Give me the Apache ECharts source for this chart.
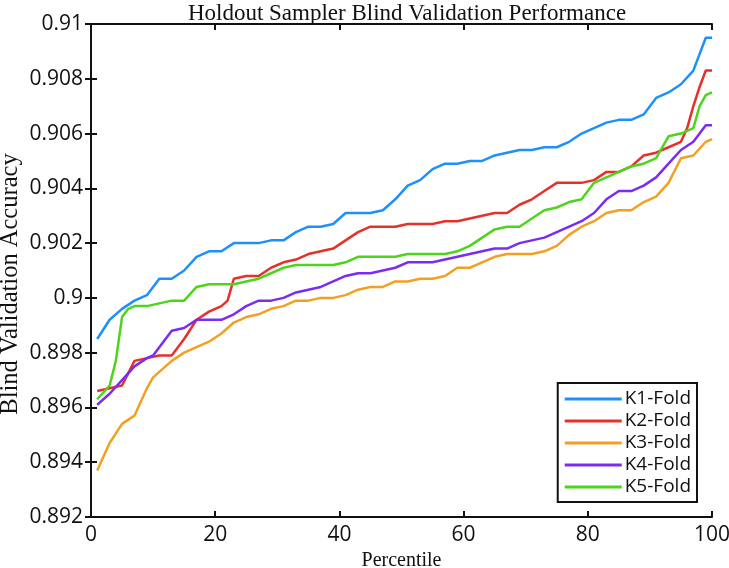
<!DOCTYPE html>
<html>
<head>
<meta charset="utf-8">
<script src="https://cdn.jsdelivr.net/npm/echarts@6/dist/echarts.min.js"></script>
<style>html,body{margin:0;padding:0;background:#fff}#c{width:729px;height:568px}</style>
</head>
<body>
<div id="c"></div>
<script>
const seriesNames = ['K1-Fold','K2-Fold','K3-Fold','K4-Fold','K5-Fold'];
const xTicks = [0,20,40,60,80,100];
const yTicks = [0.892,0.894,0.896,0.898,0.9,0.902,0.904,0.906,0.908,0.91];

const k1 = [[1,.8985],[3,.8992],[5,.8996],[7,.8999],[9,.9001],[11,.9007],[13,.9007],[15,.9010],[17,.9015],[19,.9017],[21,.9017],[23,.9020],[25,.9020],[27,.9020],[29,.9021],[31,.9021],[33,.9024],[35,.9026],[37,.9026],[39,.9027],[41,.9031],[43,.9031],[45,.9031],[47,.9032],[49,.9036],[51,.9041],[53,.9043],[55,.9047],[57,.9049],[59,.9049],[61,.9050],[63,.9050],[65,.9052],[67,.9053],[69,.9054],[71,.9054],[73,.9055],[75,.9055],[77,.9057],[79,.9060],[81,.9062],[83,.9064],[85,.9065],[87,.9065],[89,.9067],[91,.9073],[93,.9075],[95,.9078],[97,.9083],[98,.9089],[99,.9095],[100,.9095]];
const k2 = [[1,.8966],[3,.8967],[5,.8968],[7,.8977],[9,.8978],[11,.8979],[13,.8979],[15,.8985],[17,.8992],[19,.8995],[21,.8997],[22,.8999],[23,.9007],[25,.9008],[27,.9008],[29,.9011],[31,.9013],[33,.9014],[35,.9016],[37,.9017],[39,.9018],[41,.9021],[43,.9024],[45,.9026],[47,.9026],[49,.9026],[51,.9027],[53,.9027],[55,.9027],[57,.9028],[59,.9028],[61,.9029],[63,.9030],[65,.9031],[67,.9031],[69,.9034],[71,.9036],[73,.9039],[75,.9042],[77,.9042],[79,.9042],[81,.9043],[83,.9046],[85,.9046],[87,.9048],[89,.9052],[91,.9053],[93,.9055],[95,.9057],[96,.9062],[97,.9070],[98,.9077],[99,.9083],[100,.9083]];
const k3 = [[1,.8937],[3,.8947],[5,.8954],[7,.8957],[9,.8967],[10,.8971],[11,.8973],[13,.8977],[15,.8980],[17,.8982],[19,.8984],[21,.8987],[23,.8991],[25,.8993],[27,.8994],[29,.8996],[31,.8997],[33,.8999],[35,.8999],[37,.9000],[39,.9000],[41,.9001],[43,.9003],[45,.9004],[47,.9004],[49,.9006],[51,.9006],[53,.9007],[55,.9007],[57,.9008],[59,.9011],[61,.9011],[63,.9013],[65,.9015],[67,.9016],[69,.9016],[71,.9016],[73,.9017],[75,.9019],[77,.9023],[79,.9026],[81,.9028],[83,.9031],[85,.9032],[87,.9032],[89,.9035],[91,.9037],[93,.9042],[95,.9051],[97,.9052],[99,.9057],[100,.9058]];
const k4 = [[1,.8961],[3,.8965],[5,.8970],[7,.8975],[9,.8978],[10,.8979],[11,.8982],[13,.8988],[15,.8989],[17,.8992],[19,.8992],[21,.8992],[23,.8994],[25,.8997],[27,.8999],[29,.8999],[31,.9000],[33,.9002],[35,.9003],[37,.9004],[39,.9006],[41,.9008],[43,.9009],[45,.9009],[47,.9010],[49,.9011],[51,.9013],[53,.9013],[55,.9013],[57,.9014],[59,.9015],[61,.9016],[63,.9017],[65,.9018],[67,.9018],[69,.9020],[71,.9021],[73,.9022],[75,.9024],[77,.9026],[79,.9028],[81,.9031],[83,.9036],[85,.9039],[87,.9039],[89,.9041],[91,.9044],[93,.9049],[95,.9054],[97,.9057],[99,.9063],[100,.9063]];
const k5 = [[1,.8963],[3,.8968],[4,.8977],[5,.8993],[6,.8996],[7,.8997],[9,.8997],[11,.8998],[13,.8999],[15,.8999],[17,.9004],[19,.9005],[21,.9005],[23,.9005],[25,.9006],[27,.9007],[29,.9009],[31,.9011],[33,.9012],[35,.9012],[37,.9012],[39,.9012],[41,.9013],[43,.9015],[45,.9015],[47,.9015],[49,.9015],[51,.9016],[53,.9016],[55,.9016],[57,.9016],[59,.9017],[61,.9019],[63,.9022],[65,.9025],[67,.9026],[69,.9026],[71,.9029],[73,.9032],[75,.9033],[77,.9035],[79,.9036],[81,.9042],[83,.9044],[85,.9046],[87,.9048],[89,.9049],[91,.9051],[93,.9059],[95,.9060],[97,.9062],[98,.9070],[99,.9074],[100,.9075]];

const colors = ['#1E8FFF','#E5312A','#F2A024','#7A2CF5','#4ED41C'];
const allData = [k1,k2,k3,k4,k5];

const chart = echarts.init(document.getElementById('c'), null, {renderer:'canvas'});
const fmtY = v => String(parseFloat(v.toFixed(3)));
const sans = 'Open Sans';
const serif = 'Liberation Serif';
chart.setOption({
  animation:false,
  backgroundColor:'#fff',
  title:{text:'Holdout Sampler Blind Validation Performance', left:402, textAlign:'center', top:-3,
    textStyle:{fontFamily:serif, fontWeight:'normal', fontSize:23, color:'#111'}},
  grid:{left:91, right:17, top:24, bottom:51, containLabel:false, outerBoundsMode:'none'},
  legend:{
    data:seriesNames, orient:'vertical', right:32, bottom:66,
    backgroundColor:'#fff', borderColor:'#111', borderWidth:2,
    padding:[6,6,5,7], itemGap:2, itemWidth:57, itemHeight:3, icon:'rect',
    textStyle:{fontFamily:sans, fontSize:19, color:'#111', lineHeight:20, padding:[0,0,0,-2]}
  },
  graphic:[{
    type:'text', x:11, y:284, rotation:Math.PI/2,
    style:{text:'Blind Validation Accuracy', font:'24.5px "Liberation Serif"', fill:'#111', align:'center', verticalAlign:'middle'}
  }],
  xAxis:[
    {type:'value', min:0, max:100, interval:20, position:'bottom',
     axisLine:{lineStyle:{color:'#111', width:2}},
     axisTick:{inside:true, length:6, lineStyle:{color:'#111', width:2}},
     axisLabel:{fontFamily:sans, fontSize:21, color:'#111', margin:8},
     splitLine:{show:false},
     name:'Percentile', nameLocation:'middle', nameGap:33,
     nameTextStyle:{fontFamily:serif, fontSize:20, color:'#111'}},
    {type:'value', min:0, max:100, interval:20, position:'top',
     axisLine:{lineStyle:{color:'#111', width:2}},
     axisTick:{inside:true, length:6, lineStyle:{color:'#111', width:2}},
     axisLabel:{show:false}, splitLine:{show:false}}
  ],
  yAxis:[
    {type:'value', min:0.892, max:0.91, interval:0.002, position:'left',
     axisLine:{lineStyle:{color:'#111', width:2}},
     axisTick:{inside:true, length:6, lineStyle:{color:'#111', width:2}},
     axisLabel:{fontFamily:sans, fontSize:21, color:'#111', margin:8, formatter:fmtY},
     splitLine:{show:false}},
    {type:'value', min:0.892, max:0.91, interval:0.002, position:'right',
     axisLine:{lineStyle:{color:'#111', width:2}},
     axisTick:{inside:true, length:6, lineStyle:{color:'#111', width:2}},
     axisLabel:{show:false}, splitLine:{show:false}}
  ],
  series: seriesNames.map((n,i)=>({
    name:n, type:'line', data:allData[i], symbol:'none', smooth:false,
    xAxisIndex:0, yAxisIndex:0,
    lineStyle:{color:colors[i], width:2.5}, itemStyle:{color:colors[i]}
  }))
});
</script>
</body>
</html>
